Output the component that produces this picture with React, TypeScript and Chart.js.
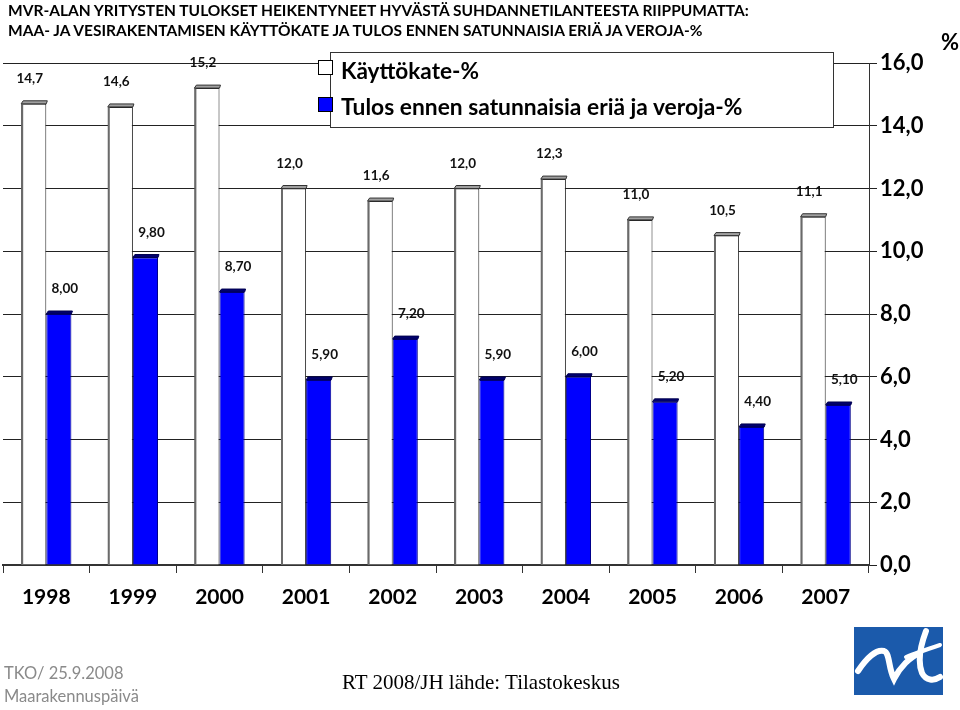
import React, { useEffect, useRef } from "react";
import { Chart, registerables } from "chart.js";

Chart.register(...registerables);

const years = ["1998", "1999", "2000", "2001", "2002", "2003", "2004", "2005", "2006", "2007"];
const kayttokate = [14.7, 14.6, 15.2, 12.0, 11.6, 12.0, 12.3, 11.0, 10.5, 11.1];
const tulos = [8.0, 9.8, 8.7, 5.9, 7.2, 5.9, 6.0, 5.2, 4.4, 5.1];
const seriesNames = ["Käyttökate-%", "Tulos ennen satunnaisia eriä ja veroja-%"];
const labelDecimals = [1, 2];
const yMin = 0;
const yMax = 16;
const yStep = 2;

const titleLines = [
  "MVR-ALAN YRITYSTEN TULOKSET HEIKENTYNEET HYVÄSTÄ SUHDANNETILANTEESTA RIIPPUMATTA:",
  "MAA- JA VESIRAKENTAMISEN KÄYTTÖKATE JA TULOS ENNEN SATUNNAISIA ERIÄ JA VEROJA-%",
];

const fmt = (v: number, d: number) => v.toFixed(d).replace(".", ",");

const barDecor = {
  id: "barDecor",
  afterDatasetsDraw(chart: any) {
    const ctx = chart.ctx;
    const base = chart.scales.y.getPixelForValue(0);
    chart.data.datasets.forEach((ds: any, di: number) => {
      const meta = chart.getDatasetMeta(di);
      meta.data.forEach((bar: any, i: number) => {
        const { x, y, width } = bar.getProps(["x", "y", "width"], true);
        const left = x - width / 2;
        const right = x + width / 2;
        ctx.save();
        if (di === 0) {
          ctx.fillStyle = "#6a6a6a";
          ctx.fillRect(left, y, 2, base - y);
        }
        ctx.beginPath();
        ctx.moveTo(left, y);
        ctx.lineTo(left + 2, y - 3);
        ctx.lineTo(right + 1, y - 3);
        ctx.lineTo(right, y);
        ctx.closePath();
        ctx.fillStyle = di === 0 ? "#a0a0a0" : "#00006e";
        ctx.fill();
        ctx.strokeStyle = di === 0 ? "#333" : "#000050";
        ctx.lineWidth = 1;
        ctx.stroke();
        ctx.font = "bold 13.5px Lato";
        ctx.fillStyle = "#111";
        ctx.textAlign = "center";
        ctx.textBaseline = "middle";
        ctx.fillText(fmt(ds.data[i], labelDecimals[di]), x + (di === 0 ? -4 : 6), y - 25);
        ctx.restore();
      });
    });
  },
};

function ChartCanvas() {
  const ref = useRef<HTMLCanvasElement | null>(null);
  useEffect(() => {
    if (!ref.current) return;
    const chart = new Chart(ref.current, {
      type: "bar",
      data: {
        labels: years,
        datasets: [
          {
            label: seriesNames[0],
            data: kayttokate,
            backgroundColor: "#ffffff",
            borderColor: "#222",
            borderWidth: 1,
            barPercentage: 1,
            categoryPercentage: 0.58,
          },
          {
            label: seriesNames[1],
            data: tulos,
            backgroundColor: "#0000ff",
            borderColor: "#00008a",
            borderWidth: 1,
            barPercentage: 1,
            categoryPercentage: 0.58,
          },
        ],
      },
      options: {
        responsive: false,
        animation: false,
        devicePixelRatio: 1,
        layout: { padding: { top: 63, left: 3, right: 0, bottom: 0 } },
        plugins: {
          legend: { display: false },
          tooltip: { enabled: false },
          title: { display: false },
        },
        scales: {
          x: {
            afterFit: (s: any) => {
              s.height = 145;
            },
            grid: {
              display: true,
              drawOnChartArea: false,
              offset: true,
              tickLength: 8,
              color: "#333",
            },
            border: { display: true, color: "#333", width: 2 },
            ticks: {
              color: "#000",
              font: { family: "Lato", size: 21, weight: "bold" },
              padding: 12,
              maxRotation: 0,
            },
          },
          y: {
            position: "right",
            min: yMin,
            max: yMax,
            afterFit: (s: any) => {
              s.width = 91;
            },
            grid: { color: "#222", tickLength: 8, lineWidth: 1 },
            border: { display: true, color: "#333", width: 1 },
            ticks: {
              stepSize: yStep,
              color: "#000",
              padding: 3,
              font: { family: "Lato", size: 22, weight: "bold" },
              callback: (v: any) => fmt(Number(v), 1),
            },
          },
        },
      },
      plugins: [barDecor],
    } as any);
    return () => chart.destroy();
  }, []);
  return <canvas ref={ref} width={960} height={710} style={{ position: "absolute", left: 0, top: 0 }} />;
}

export default function App() {
  return (
    <div
      style={{
        position: "fixed",
        left: 0,
        top: 0,
        width: 960,
        height: 710,
        background: "#fff",
        overflow: "hidden",
        fontFamily: "Lato, sans-serif",
      }}
    >
      <ChartCanvas />
      <div style={{ position: "absolute", left: 8, top: 0, fontWeight: "bold", fontSize: 15.5, lineHeight: "20px", color: "#000", whiteSpace: "nowrap" }}>
        {titleLines.map((t) => (
          <div key={t}>{t}</div>
        ))}
      </div>
      <div style={{ position: "absolute", left: 941, top: 28, fontWeight: "bold", fontSize: 22, color: "#000" }}>%</div>
      {/* legend */}
      <div
        style={{
          position: "absolute",
          left: 330,
          top: 52,
          width: 502,
          height: 74,
          border: "1px solid #333",
          background: "#fff",
        }}
      />
      <div style={{ position: "absolute", left: 318, top: 60, width: 13, height: 13, border: "1px solid #000", background: "#fff" }} />
      <div style={{ position: "absolute", left: 318, top: 97, width: 13, height: 13, border: "1px solid #000", background: "#0000ff" }} />
      <div style={{ position: "absolute", left: 341, top: 57, fontWeight: "bold", fontSize: 22.6, lineHeight: "28px", whiteSpace: "nowrap" }}>
        {seriesNames[0]}
      </div>
      <div style={{ position: "absolute", left: 341, top: 92, fontWeight: "bold", fontSize: 22.8, lineHeight: "28px", whiteSpace: "nowrap" }}>
        {seriesNames[1]}
      </div>
      {/* footer */}
      <div style={{ position: "absolute", left: 4, top: 662, fontSize: 16.5, lineHeight: "23px", color: "#8a8a8a" }}>
        <div>TKO/ 25.9.2008</div>
        <div>Maarakennuspäivä</div>
      </div>
      <div style={{ position: "absolute", left: 342, top: 670, fontFamily: "'Liberation Serif', serif", fontSize: 21, color: "#000", whiteSpace: "nowrap" }}>
        RT 2008/JH lähde: Tilastokeskus
      </div>
      <svg style={{ position: "absolute", left: 854, top: 627 }} width={89} height={68} viewBox="0 0 89 68">
        <rect x={0} y={0} width={89} height={68} fill="#1b5aab" />
        <path d="M4 44 C 12 32, 22 22, 30 24 C 36 26, 34 40, 40 52 C 46 40, 56 30, 66 26" stroke="#fff" strokeWidth={6} fill="none" strokeLinecap="round" />
        <path d="M72 4 C 66 20, 64 36, 68 46 C 72 54, 80 54, 86 50" stroke="#fff" strokeWidth={6} fill="none" strokeLinecap="round" />
        <path d="M52 30 C 62 26, 74 22, 86 18" stroke="#fff" strokeWidth={4} fill="none" strokeLinecap="round" />
      </svg>
    </div>
  );
}
